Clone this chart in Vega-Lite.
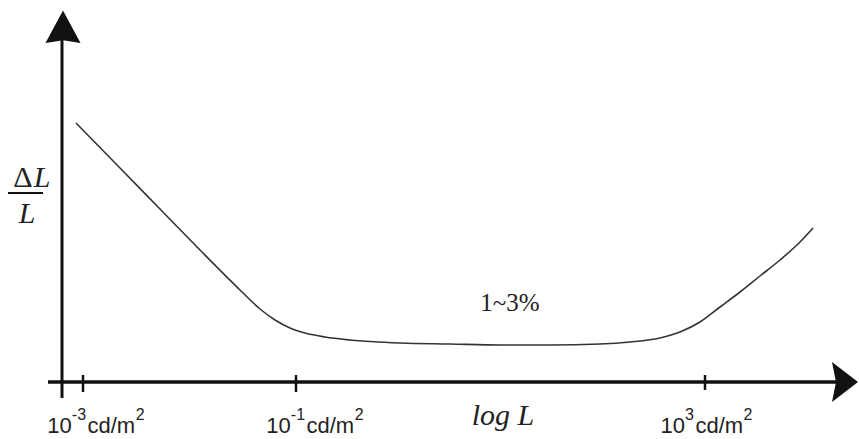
{
  "$schema": "https://vega.github.io/schema/vega-lite/v6.json",
  "width": 859,
  "height": 439,
  "padding": 0,
  "autosize": {"type": "fit", "contains": "padding"},
  "background": "white",
  "config": {"view": {"stroke": null}},
  "layer": [
    {
      "data": {"values": [
        {"x": 76, "y": 316}, {"x": 120, "y": 271}, {"x": 160, "y": 230}, {"x": 200, "y": 189},
        {"x": 240, "y": 149}, {"x": 260, "y": 130}, {"x": 275, "y": 119}, {"x": 290, "y": 111},
        {"x": 305, "y": 106}, {"x": 325, "y": 102}, {"x": 350, "y": 99}, {"x": 400, "y": 96},
        {"x": 450, "y": 95}, {"x": 500, "y": 94}, {"x": 550, "y": 94}, {"x": 600, "y": 95},
        {"x": 630, "y": 97}, {"x": 660, "y": 101}, {"x": 680, "y": 107}, {"x": 700, "y": 117},
        {"x": 720, "y": 132}, {"x": 740, "y": 147}, {"x": 760, "y": 163}, {"x": 780, "y": 179},
        {"x": 800, "y": 197}, {"x": 813, "y": 211}
      ]},
      "mark": {"type": "line", "color": "#333333", "strokeWidth": 1.6, "interpolate": "monotone"},
      "encoding": {
        "x": {"field": "x", "type": "quantitative", "scale": {"domain": [0, 859], "nice": false, "zero": false}, "axis": null},
        "y": {"field": "y", "type": "quantitative", "scale": {"domain": [0, 439], "nice": false, "zero": false}, "axis": null}
      }
    },
    {
      "data": {"values": [
        {"part": "y axis", "x": 62, "x2": 62, "y": 41, "y2": 400, "w": 3},
        {"part": "x axis", "x": 48, "x2": 842, "y": 57, "y2": 57, "w": 3.5},
        {"part": "tick -3", "x": 83, "x2": 83, "y": 47, "y2": 64, "w": 2.5},
        {"part": "tick -1", "x": 296, "x2": 296, "y": 47, "y2": 64, "w": 2.5},
        {"part": "tick 3", "x": 705, "x2": 705, "y": 49, "y2": 64, "w": 2.5},
        {"part": "fraction bar", "x": 8, "x2": 43, "y": 246, "y2": 246, "w": 2}
      ]},
      "mark": {"type": "rule", "color": "#111111"},
      "encoding": {
        "x": {"field": "x", "type": "quantitative"},
        "x2": {"field": "x2"},
        "y": {"field": "y", "type": "quantitative"},
        "y2": {"field": "y2"},
        "strokeWidth": {"field": "w", "type": "quantitative", "scale": null}
      }
    },
    {
      "data": {"values": [{"x": 63, "y": 411}]},
      "mark": {"type": "point", "shape": "M0,-1L1,0.85L0,0.7L-1,0.85Z", "size": 1225, "filled": true, "color": "#111111", "opacity": 1},
      "encoding": {
        "x": {"field": "x", "type": "quantitative"},
        "y": {"field": "y", "type": "quantitative"}
      }
    },
    {
      "data": {"values": [{"x": 845, "y": 57}]},
      "mark": {"type": "point", "shape": "M0.65,0L-0.65,-1L-0.45,0L-0.65,1Z", "size": 1600, "filled": true, "color": "#111111", "opacity": 1},
      "encoding": {
        "x": {"field": "x", "type": "quantitative"},
        "y": {"field": "y", "type": "quantitative"}
      }
    },
    {
      "data": {"values": [
        {"x": 47.3, "y": 6, "t": "10"}, {"x": 87.5, "y": 6, "t": "cd/m"},
        {"x": 266.3, "y": 6, "t": "10"}, {"x": 306.5, "y": 6, "t": "cd/m"},
        {"x": 660.5, "y": 6, "t": "10"}, {"x": 695.4, "y": 6, "t": "cd/m"}
      ]},
      "mark": {"type": "text", "font": "Liberation Sans", "fontSize": 22, "align": "left", "baseline": "alphabetic", "color": "#222222"},
      "encoding": {
        "x": {"field": "x", "type": "quantitative"},
        "y": {"field": "y", "type": "quantitative"},
        "text": {"field": "t"}
      }
    },
    {
      "data": {"values": [
        {"x": 71.8, "y": 19, "t": "-3"}, {"x": 135.7, "y": 19, "t": "2"},
        {"x": 290.8, "y": 19, "t": "-1"}, {"x": 354.7, "y": 19, "t": "2"},
        {"x": 685, "y": 19, "t": "3"}, {"x": 743.6, "y": 19, "t": "2"}
      ]},
      "mark": {"type": "text", "font": "Liberation Sans", "fontSize": 16, "align": "left", "baseline": "alphabetic", "color": "#222222"},
      "encoding": {
        "x": {"field": "x", "type": "quantitative"},
        "y": {"field": "y", "type": "quantitative"},
        "text": {"field": "t"}
      }
    },
    {
      "data": {"values": [
        {"x": 503, "y": 14, "t": "log L", "s": 30},
        {"x": 42, "y": 252, "t": "L", "s": 30},
        {"x": 27, "y": 216, "t": "L", "s": 30}
      ]},
      "mark": {"type": "text", "font": "Liberation Serif", "fontStyle": "italic", "align": "center", "baseline": "alphabetic", "color": "#222222"},
      "encoding": {
        "x": {"field": "x", "type": "quantitative"},
        "y": {"field": "y", "type": "quantitative"},
        "text": {"field": "t"},
        "size": {"field": "s", "type": "quantitative", "scale": null}
      }
    },
    {
      "data": {"values": [
        {"x": 23, "y": 252, "t": "Δ", "s": 30},
        {"x": 510, "y": 128, "t": "1~3%", "s": 25}
      ]},
      "mark": {"type": "text", "font": "Liberation Serif", "align": "center", "baseline": "alphabetic", "color": "#222222"},
      "encoding": {
        "x": {"field": "x", "type": "quantitative"},
        "y": {"field": "y", "type": "quantitative"},
        "text": {"field": "t"},
        "size": {"field": "s", "type": "quantitative", "scale": null}
      }
    }
  ]
}
